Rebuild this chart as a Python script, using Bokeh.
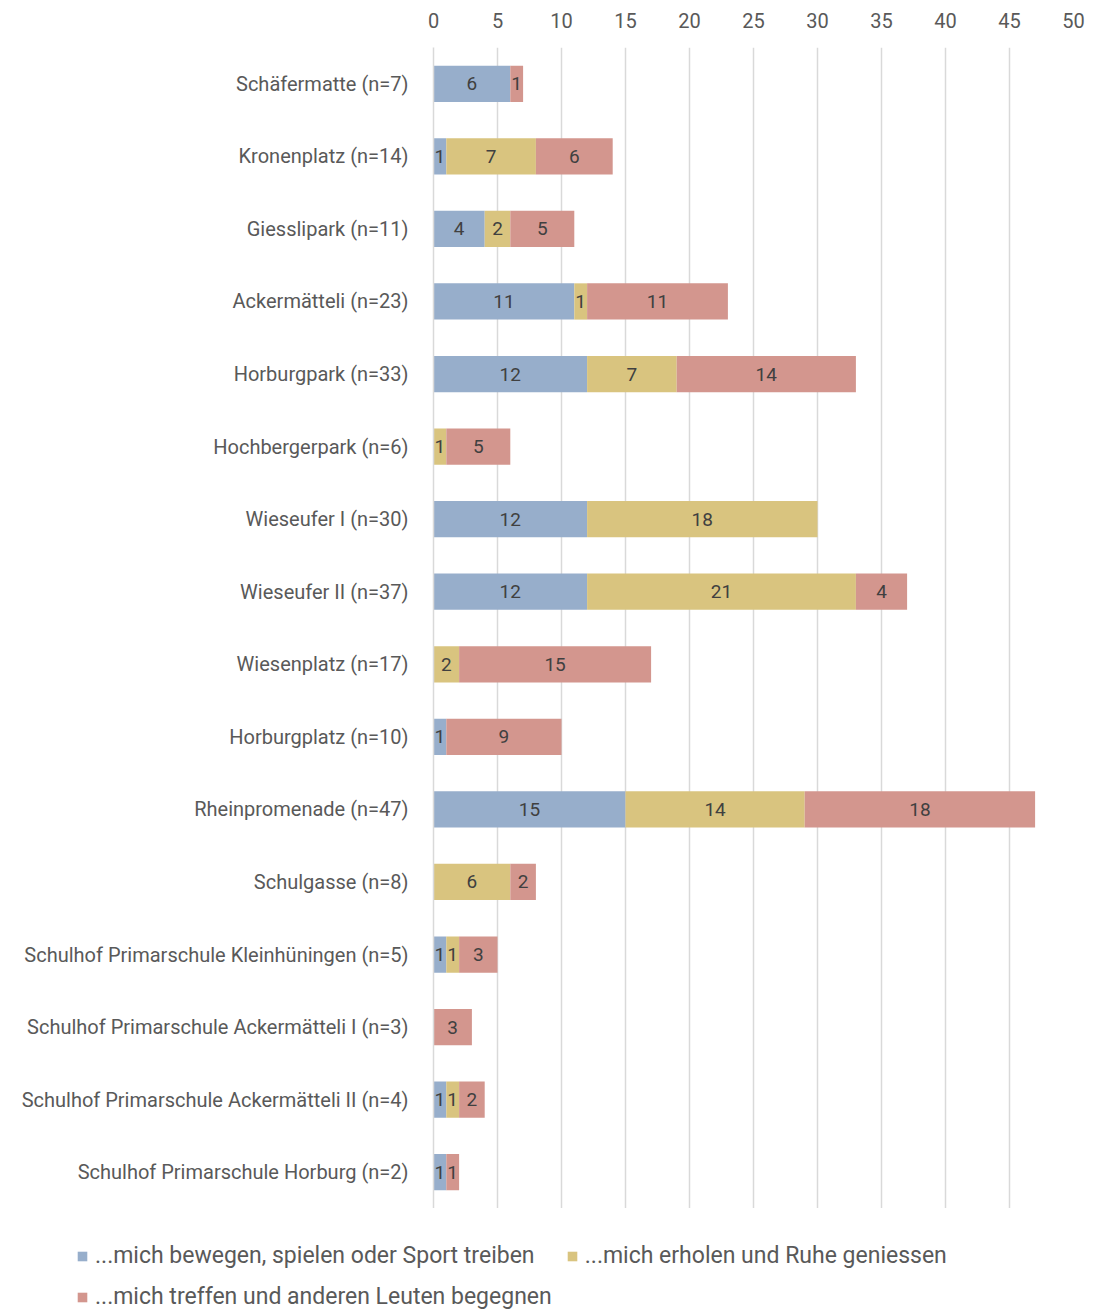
from bokeh.plotting import figure
from bokeh.models import ColumnDataSource, Legend, LegendItem, FactorRange, FixedTicker, Range1d
from bokeh.embed import file_html
from bokeh.resources import INLINE
from bokeh.core.properties import value

categories = [
    "Schäfermatte (n=7)",
    "Kronenplatz (n=14)",
    "Giesslipark (n=11)",
    "Ackermätteli (n=23)",
    "Horburgpark (n=33)",
    "Hochbergerpark (n=6)",
    "Wieseufer I (n=30)",
    "Wieseufer II (n=37)",
    "Wiesenplatz (n=17)",
    "Horburgplatz (n=10)",
    "Rheinpromenade (n=47)",
    "Schulgasse (n=8)",
    "Schulhof Primarschule Kleinhüningen (n=5)",
    "Schulhof Primarschule Ackermätteli I (n=3)",
    "Schulhof Primarschule Ackermätteli II (n=4)",
    "Schulhof Primarschule Horburg (n=2)",
]
bewegen = [6, 1, 4, 11, 12, 0, 12, 12, 0, 1, 15, 0, 1, 0, 1, 1]
erholen = [0, 7, 2, 1, 7, 1, 18, 21, 2, 0, 14, 6, 1, 0, 1, 0]
treffen = [1, 6, 5, 11, 14, 5, 0, 4, 15, 9, 18, 2, 3, 3, 2, 1]
series_names = [
    "...mich bewegen, spielen oder Sport treiben",
    "...mich erholen und Ruhe geniessen",
    "...mich treffen und anderen Leuten begegnen",
]
colors = ["#97AECB", "#D9C47F", "#D3968E"]
x_ticks = [0, 5, 10, 15, 20, 25, 30, 35, 40, 45, 50]

FONT = "Roboto"
TXT = "#595959"

source = ColumnDataSource(dict(cat=categories, a=bewegen, b=erholen, c=treffen))

p = figure(
    frame_width=640, frame_height=1161,
    y_range=FactorRange(factors=list(reversed(categories))),
    x_range=Range1d(0, 50),
    x_axis_location="above",
    output_backend="svg", toolbar_location=None,
    min_border_left=433, min_border_right=37,
    min_border_top=47, min_border_bottom=0,
)

p.hbar_stack(["a", "b", "c"], y="cat", height=0.5, color=colors,
             line_color=None, source=source)

# data labels
lx, ly, lt = [], [], []
for i, cat in enumerate(categories):
    start = 0
    for vals in (bewegen, erholen, treffen):
        v = vals[i]
        if v > 0:
            lx.append(start + v / 2)
            ly.append(cat)
            lt.append(str(v))
        start += v
p.text(x=lx, y=ly, text=lt, text_align="center", text_baseline="middle",
       text_font=value(FONT), text_font_size="19px", text_color="#404040")

p.outline_line_color = None
p.ygrid.grid_line_color = None
p.xgrid.grid_line_color = "#D9D9D9"
p.xgrid.grid_line_width = 1.5
p.xaxis.ticker = FixedTicker(ticks=x_ticks)
p.xaxis.axis_line_color = None
p.xaxis.major_tick_line_color = None
p.xaxis.minor_tick_line_color = None
p.xaxis.major_label_text_font = FONT
p.xaxis.major_label_text_font_size = "20px"
p.xaxis.major_label_text_color = TXT
p.xaxis.major_label_standoff = 14

p.yaxis.axis_line_color = "#D9D9D9"
p.yaxis.axis_line_width = 1.5
p.yaxis.major_tick_line_color = None
p.yaxis.minor_tick_line_color = None
p.yaxis.major_label_text_font = FONT
p.yaxis.major_label_text_font_size = "20px"
p.yaxis.major_label_text_color = TXT
p.yaxis.major_label_standoff = 19

# Legend strip drawn as its own root below the chart (not frame-aligned)
lg = figure(
    width=1110, height=103,
    y_range=FactorRange(factors=list(reversed(categories))),
    x_range=Range1d(0, 50),
    output_backend="svg", toolbar_location=None,
    min_border_left=0, min_border_right=0, min_border_top=0, min_border_bottom=0,
)
lg.axis.visible = False
lg.grid.visible = False
lg.outline_line_color = None
lg_renderers = lg.hbar_stack(["a", "b", "c"], y="cat", height=0.5, color=colors,
                             line_color=None, source=source, visible=False)

legend = Legend(
    items=[LegendItem(label=n, renderers=[r]) for n, r in zip(series_names, lg_renderers)],
    orientation="horizontal", nrows=2,
    label_text_font=FONT, label_text_font_size="23px", label_text_color=TXT,
    glyph_width=12, glyph_height=12, spacing=14, label_standoff=7,
    border_line_color=None, background_fill_alpha=0,
    padding=0, margin=0,
    location=(76, 1),
)
lg.add_layout(legend, "center")

open("out.html", "w").write(file_html([p, lg], INLINE))
